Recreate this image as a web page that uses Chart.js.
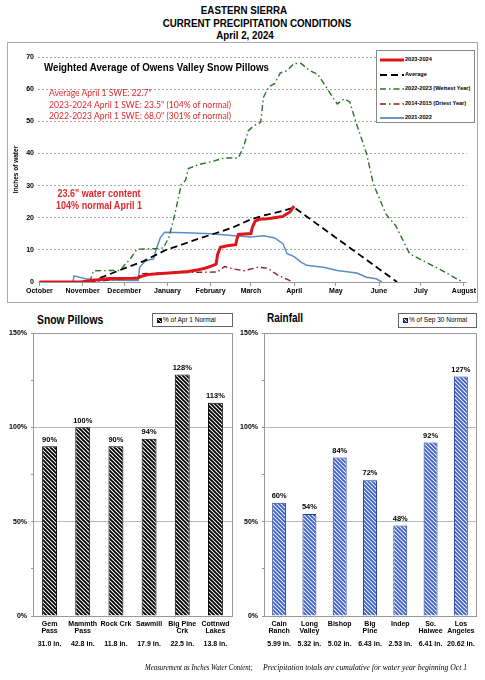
<!DOCTYPE html>
<html>
<head>
<meta charset="utf-8">
<script src="https://cdn.jsdelivr.net/npm/chart.js@4.4.1/dist/chart.umd.min.js"></script>
<style>
    body { margin: 0; width: 485px; height: 680px; position: relative; background: #fff; overflow: hidden;
           font-family: "Liberation Sans", Arial, sans-serif; }
    .abs { position: absolute; white-space: nowrap; }
    .narrow { font-family: "Liberation Sans Narrow", "Arial Narrow", "Liberation Sans", sans-serif; font-weight: bold;
              transform-origin: left center; transform: scaleX(0.83); }
    .head { font-size: 11.5px; line-height: 1; transform-origin: center; transform: translateX(-50%) scaleX(0.85); }
    .red { color: #e0282c; }
    .lgd { position: absolute; background: #fff; border: 1px solid #888; box-sizing: border-box; }
    .lgd-row { position: absolute; left: 3px; height: 8px; font-weight: bold; font-size: 5.6px; line-height: 8px; }
    .lgd-row svg { vertical-align: middle; margin-right: 1px; }
    .box { position: absolute; border: 1px solid #666; box-sizing: border-box; font-size: 6.5px; line-height: 12px; padding-left: 4px; }
    .sw { display: inline-block; width: 5px; height: 5px; border: 1px solid #222; box-sizing: border-box; margin-right: 1px; vertical-align: -1px; }
    .foot { top: 663px; font-family: "Liberation Serif", serif; font-style: italic; font-size: 7.7px; transform-origin: left center; }
</style>
</head>
<body>

<div class="abs narrow head" style="left:244px; top:5px">EASTERN SIERRA</div>
<div class="abs narrow head" style="left:257px; top:18px">CURRENT PRECIPITATION CONDITIONS</div>
<div class="abs narrow head" style="left:245px; top:30px">April 2, 2024</div>

<div class="abs" style="left:7px; top:42px; width:471px; height:261px; border:1px solid #aaa; box-sizing:border-box;">
    <canvas id="snow-chart" width="469" height="259"></canvas>
</div>

<div class="abs narrow" style="left:44px; top:60px; font-size:11.7px;">Weighted Average of Owens Valley Snow Pillows</div>
<div class="abs red" style="left:49px; top:88px; font-family:Lato, sans-serif; font-size:8.6px; line-height:11.5px;">
    Average April 1 SWE: 22.7"<br>
    2023-2024 April 1 SWE: 23.5" (104% of normal)<br>
    2022-2023 April 1 SWE: 68.0" (301% of normal)
</div>
<div class="abs narrow red" style="left:99px; top:187px; text-align:center; font-size:11px; line-height:12px; transform-origin:center; transform:translateX(-50%) scaleX(0.82);">
    23.6" water content<br>104% normal April 1
</div>

<div class="lgd" style="left:376px; top:50px; width:99px; height:73px;">
    <div class="lgd-row" style="top:4px"><svg width="24" height="4"><line x1="0" y1="2" x2="24" y2="2" stroke="#e0141b" stroke-width="3"/></svg>2023-2024</div>
    <div class="lgd-row" style="top:19px"><svg width="24" height="4"><line x1="0" y1="2" x2="24" y2="2" stroke="#000" stroke-width="1.8" stroke-dasharray="7 4"/></svg>Average</div>
    <div class="lgd-row" style="top:33px"><svg width="24" height="4"><line x1="0" y1="2" x2="24" y2="2" stroke="#2a722a" stroke-width="1.4" stroke-dasharray="6 3 1.5 3"/></svg>2022-2023 (Wettest Year)</div>
    <div class="lgd-row" style="top:48px"><svg width="24" height="4"><line x1="0" y1="2" x2="24" y2="2" stroke="#8a1c1c" stroke-width="1.4" stroke-dasharray="6 3 1.5 3"/></svg>2014-2015 (Driest Year)</div>
    <div class="lgd-row" style="top:62px"><svg width="24" height="4"><line x1="0" y1="2" x2="24" y2="2" stroke="#5b8cc6" stroke-width="1.8"/></svg>2021-2022</div>
</div>

<div class="abs narrow" style="left:37px; top:313px; font-size:12.5px;">Snow Pillows</div>
<div class="box" style="left:152px; top:313px; width:81px; height:14px;"><span class="sw" style="background:repeating-linear-gradient(45deg,#000 0 1.6px,#fff 1.6px 2.6px)"></span>% of Apr 1 Normal</div>
<canvas id="pillow-chart" class="abs" style="left:0; top:305px" width="240" height="360"></canvas>

<div class="abs narrow" style="left:267px; top:311px; font-size:12.5px; transform:scaleX(0.8);">Rainfall</div>
<div class="box" style="left:398px; top:313px; width:79px; height:15px;"><span class="sw" style="background:repeating-linear-gradient(45deg,#3a5fcd 0 1.6px,#fff 1.6px 2.6px)"></span>% of Sep 30 Normal</div>
<canvas id="rain-chart" class="abs" style="left:236px; top:305px" width="249" height="360"></canvas>

<div class="abs foot" style="left:145px; transform:scaleX(0.89);">Measurement as Inches Water Content;</div>
<div class="abs foot" style="left:263px;">Precipitation totals are cumulative for water year beginning Oct 1</div>

<script>
// x values are days since Oct 1 (start of water year)
const monthStarts = [0, 31, 61, 92, 123, 152, 183, 213, 244, 274, 305];
const monthNames = ['October', 'November', 'December', 'January', 'February', 'March', 'April', 'May', 'June', 'July', 'August'];

const wy2024Days = [0, 30, 36, 44, 50, 70, 73, 78, 85, 93, 100, 107, 113, 119, 124, 127, 128, 130, 135, 141, 142, 143, 152, 153, 155, 158, 164, 170, 175, 177, 180, 183];
const wy2024Swe = [0, 0, 0.4, 0.8, 1.1, 1.2, 1.7, 2.3, 2.6, 2.8, 3.0, 3.3, 3.7, 4.3, 5.0, 5.6, 8.5, 10.8, 11.3, 11.6, 13.5, 14.8, 15.1, 17.0, 18.9, 19.5, 19.7, 20.1, 20.4, 21.0, 21.8, 23.6];

const avgDays = [36, 45, 62, 75, 90, 114, 138, 152, 162, 172, 183, 257];
const avgSwe = [0, 1.5, 4.4, 6.5, 9.8, 13.4, 16.8, 19.5, 20.8, 21.8, 23.2, 0];

const wetDays = [36, 39, 58, 61, 65, 70, 84, 89, 93, 97, 102, 105, 107, 115, 125, 133, 143, 147, 150, 154, 159, 161, 165, 169, 173, 178, 183, 188, 194, 200, 207, 214, 219, 223, 228, 235, 240, 249, 256, 266, 273, 287, 304];
const wetSwe = [0, 3.5, 3.6, 5.2, 7.0, 10.2, 10.4, 10.6, 13.8, 20.5, 30.4, 31.6, 35.3, 36.6, 37.6, 38.6, 38.6, 42.5, 47.0, 48.6, 49.7, 57.5, 60.8, 61.7, 65.0, 65.8, 68.0, 68.0, 65.8, 64.6, 60.0, 55.4, 57.0, 56.0, 49.0, 40.0, 30.4, 21.1, 17.5, 8.8, 7.2, 4.1, 0];

const dryDays = [36, 55, 70, 74, 110, 128, 133, 140, 147, 157, 164, 171, 182];
const drySwe = [0, 0.8, 1.5, 2.6, 3.0, 3.1, 4.8, 4.0, 3.5, 4.6, 4.3, 2.2, 0];

const wy2022Days = [0, 24, 25, 33, 43, 71, 72, 76, 80, 82, 84, 87, 90, 105, 123, 138, 152, 161, 169, 175, 178, 183, 188, 192, 204, 214, 228, 235, 242, 246];
const wy2022Swe = [0, 0, 1.9, 1.0, 0.6, 0.5, 4.6, 6.5, 7.0, 7.2, 10.3, 13.9, 15.5, 15.3, 15.0, 14.5, 14.0, 14.4, 13.7, 11.9, 8.8, 7.9, 6.2, 5.2, 4.6, 3.6, 2.8, 1.5, 1.0, 0];

const pillowSites = [['Gem', 'Pass'], ['Mammth', 'Pass'], 'Rock Crk', 'Sawmill', ['Big Pine', 'Crk'], ['Cottnwd', 'Lakes']];
const pillowDepths = ['31.0 in.', '42.8 in.', '11.8 in.', '17.9 in.', '22.5 in.', '13.8 in.'];
const pillowPct = [90, 100, 90, 94, 128, 113];

const rainSites = [['Cain', 'Ranch'], ['Long', 'Valley'], 'Bishop', ['Big', 'Pine'], 'Indep', ['So.', 'Haiwee'], ['Los', 'Angeles']];
const rainTotals = ['5.99 in.', '5.32 in.', '5.02 in.', '6.43 in.', '2.53 in.', '6.41 in.', '20.62 in.'];
const rainPct = [60, 54, 84, 72, 48, 92, 127];

const zip = (xs, ys) => xs.map((x, i) => ({x: x, y: ys[i]}));
const tickFont = {family: '"Liberation Sans", Arial, sans-serif', size: 7, weight: 'bold'};

new Chart(document.getElementById('snow-chart'), {
    type: 'line',
    data: {
        datasets: [
            {label: '2023-2024', data: zip(wy2024Days, wy2024Swe), borderColor: '#e0141b', borderWidth: 3},
            {label: 'Average', data: zip(avgDays, avgSwe), borderColor: '#000', borderWidth: 1.8, borderDash: [7, 4]},
            {label: '2022-2023 (Wettest Year)', data: zip(wetDays, wetSwe), borderColor: '#2a722a', borderWidth: 1.4, borderDash: [6, 3, 1.5, 3]},
            {label: '2014-2015 (Driest Year)', data: zip(dryDays, drySwe), borderColor: '#8a1c1c', borderWidth: 1.4, borderDash: [6, 3, 1.5, 3]},
            {label: '2021-2022', data: zip(wy2022Days, wy2022Swe), borderColor: '#5b8cc6', borderWidth: 1.5}
        ]
    },
    options: {
        responsive: false,
        animation: false,
        elements: {point: {radius: 0}, line: {tension: 0}},
        layout: {padding: {left: 4, top: 14, right: 5, bottom: 0}},
        plugins: {legend: {display: false}, tooltip: {enabled: false}},
        scales: {
            x: {
                type: 'linear',
                min: -1,
                max: 307,
                afterBuildTicks: s => { s.ticks = monthStarts.map(v => ({value: v})); },
                afterFit: s => { s.height = 20; },
                ticks: {
                    font: tickFont, color: '#000', maxRotation: 0, autoSkip: false, padding: 1,
                    callback: v => monthNames[monthStarts.indexOf(v)]
                },
                grid: {drawOnChartArea: false, tickLength: 4, color: '#999'},
                border: {color: '#999'}
            },
            y: {
                min: 0,
                max: 70,
                afterFit: s => { s.width = 26; },
                ticks: {stepSize: 10, font: tickFont, color: '#000', padding: 4},
                grid: {color: c => c.tick.value === 0 ? '#999' : '#a8a8a8', drawTicks: false},
                border: {display: false, dash: c => c.tick && c.tick.value === 0 ? [] : [2, 2]},
                title: {display: true, text: 'Inches of water', font: {family: '"Liberation Sans", Arial, sans-serif', size: 6.5, weight: 'bold'}, color: '#000', padding: 0}
            }
        }
    }
});

function hatch(fg, bg) {
    const c = document.createElement('canvas');
    c.width = 4; c.height = 4;
    const g = c.getContext('2d');
    g.fillStyle = bg;
    g.fillRect(0, 0, 4, 4);
    g.strokeStyle = fg;
    g.lineWidth = 1.9;
    g.beginPath();
    g.moveTo(-1, -1); g.lineTo(5, 5);
    g.moveTo(-1, 3); g.lineTo(1, 5);
    g.moveTo(3, -1); g.lineTo(5, 1);
    g.stroke();
    return g.createPattern(c, 'repeat');
}

const frame = {
    id: 'frame',
    afterDraw(chart) {
        const a = chart.chartArea, ctx = chart.ctx;
        ctx.save();
        ctx.strokeStyle = '#999';
        ctx.lineWidth = 1;
        ctx.strokeRect(Math.round(a.left) + 0.5, Math.round(a.top) + 0.5, Math.round(a.right - a.left), Math.round(a.bottom - a.top));
        ctx.restore();
    }
};

const barLabels = {
    id: 'barLabels',
    afterDatasetsDraw(chart) {
        const ctx = chart.ctx;
        const values = chart.data.datasets[0].data;
        ctx.save();
        ctx.font = 'bold 7.5px "Liberation Sans", Arial, sans-serif';
        ctx.textAlign = 'center';
        ctx.textBaseline = 'bottom';
        ctx.fillStyle = '#000';
        chart.getDatasetMeta(0).data.forEach((bar, i) => ctx.fillText(values[i] + '%', bar.x, bar.y - 3));
        ctx.restore();
    }
};

function barChart(id, sites, amounts, values, fill, edge, yWidth, barPct, padRight) {
    new Chart(document.getElementById(id), {
        type: 'bar',
        data: {
            labels: sites,
            datasets: [{data: values, backgroundColor: fill, borderColor: edge, borderWidth: 1, borderSkipped: 'start',
                        barPercentage: barPct, categoryPercentage: 1}]
        },
        options: {
            responsive: false,
            animation: false,
            layout: {padding: {left: 0, top: 28, right: padRight, bottom: 0}},
            plugins: {legend: {display: false}, tooltip: {enabled: false}},
            scales: {
                y: {
                    min: 0,
                    max: 150,
                    afterFit: s => { s.width = yWidth; },
                    ticks: {stepSize: 25, font: tickFont, color: '#000', padding: 4,
                            callback: v => v % 50 === 0 ? v + '%' : ''},
                    grid: {
                        color: c => (c.tick && c.tick.value % 50 === 0 && c.tick.value > 0 && c.tick.value < 150) ? '#bbb' : 'rgba(0,0,0,0)',
                        tickColor: '#999',
                        tickLength: 2
                    },
                    border: {display: false}
                },
                x: {
                    afterFit: s => { s.height = 21; },
                    ticks: {font: {family: '"Liberation Sans", Arial, sans-serif', size: 7, weight: 'bold', lineHeight: 1.1}, color: '#000', padding: 4, maxRotation: 0, autoSkip: false},
                    grid: {display: false, drawTicks: false},
                    border: {display: false}
                },
                x2: {
                    type: 'category',
                    labels: amounts,
                    position: 'bottom',
                    afterFit: s => { s.height = 28; },
                    ticks: {font: tickFont, color: '#000', padding: 3, maxRotation: 0, autoSkip: false},
                    grid: {display: false, drawTicks: false},
                    border: {display: false}
                }
            }
        },
        plugins: [frame, barLabels]
    });
}

barChart('pillow-chart', pillowSites, pillowDepths, pillowPct, hatch('#000', '#fff'), '#000', 33, 0.45, 8);
barChart('rain-chart', rainSites, rainTotals, rainPct, hatch('#3a5fcd', '#fff'), '#1d3a8f', 28, 0.46, 9);
</script>
</body>
</html>
